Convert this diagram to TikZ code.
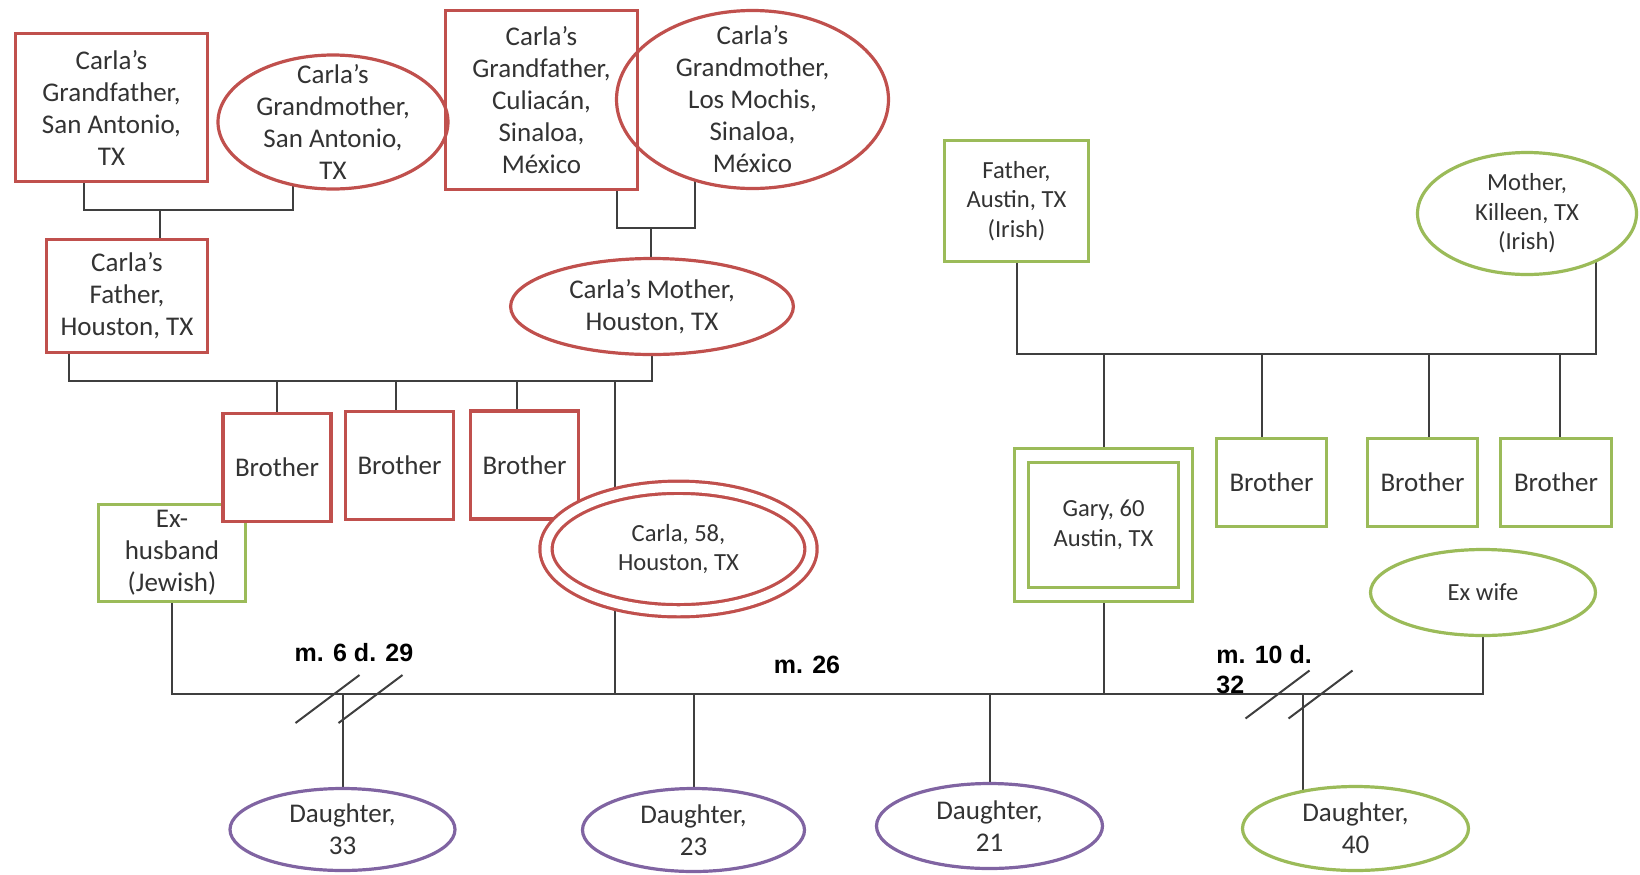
\documentclass[tikz,border=0pt]{standalone}
\usepackage{fontspec}
\setmainfont{Carlito}
\newfontfamily\markfont{Liberation Sans}
\usepackage{tikz}
\usetikzlibrary{shapes.geometric,backgrounds}
\definecolor{herside}{HTML}{C0504D}
\definecolor{hisside}{HTML}{9BBB59}
\definecolor{kids}{HTML}{8064A2}
\definecolor{wire}{HTML}{3F3F3F}
\definecolor{ink}{HTML}{333333}

\begin{document}
\begin{tikzpicture}[x=0.5pt,y=-0.5pt,
  male/.style={draw,rectangle,fill=white,line width=1.6pt,align=center,
               text=ink,font=\fontsize{13.5}{16}\selectfont,inner sep=2pt},
  female/.style={draw,ellipse,fill=white,line width=1.6pt,align=center,
                 text=ink,font=\fontsize{13.5}{16}\selectfont,
                 inner xsep=2pt,inner ysep=-12pt},
  smalltxt/.style={font=\fontsize{12.3}{14.8}\selectfont},
  proband/.style={double=white,double distance=#1},
  wh/.style 2 args={minimum width=#1pt,minimum height=#2pt},
  link/.style={wire,line width=1pt},
  years/.style={font=\markfont\bfseries\fontsize{12.5}{15}\selectfont,
                inner sep=0pt}
]
\useasboundingbox (0,0) rectangle (1640,874);

% Carla's grandparents
\node[male,draw=herside,wh={96}{74}] (gfsa) at (111.5,107.5)
  {Carla’s\\Grandfather,\\San Antonio,\\TX};
\node[female,draw=herside,wh={115}{67}] (gmsa) at (333,122)
  {Carla’s\\Grandmother,\\San Antonio,\\TX};
\node[female,draw=herside,wh={136}{89}] (gmlm) at (752.5,99.5)
  {Carla’s\\Grandmother,\\Los Mochis,\\Sinaloa,\\México};
\node[male,draw=herside,fill=none,wh={96}{89.5}] (gfcu) at (541.5,100)
  {Carla’s\\Grandfather,\\Culiacán,\\Sinaloa,\\México};

% Carla's parents
\node[male,draw=herside,wh={80.4}{56.4}] (cfather) at (127,296)
  {Carla’s\\Father,\\Houston, TX};
\node[female,draw=herside,wh={141.4}{48}] (cmother) at (652,306.5)
  {Carla’s Mother,\\Houston, TX};

% Carla, her brothers, her ex-husband
\node[male,draw=hisside,wh={73.4}{48.4},inner ysep=1pt] (exhusb) at (172,553)
  {Ex-\\husband\\(Jewish)};
\node[male,draw=herside,wh={54}{54}] (bro1) at (277,467.5) {Brother};
\node[male,draw=herside,wh={54}{54}] (bro2) at (399.5,465.5) {Brother};
\node[male,draw=herside,wh={54}{54}] (bro3) at (524.5,465) {Brother};
\node[female,draw=herside,proband=4.5pt,wh={132.5}{61.75},smalltxt] (carla)
  at (678.5,549) {Carla, 58,\\Houston, TX};

% Gary's parents
\node[male,draw=hisside,wh={72}{60.5},smalltxt] (gfather) at (1016.5,201)
  {Father,\\Austin, TX\\(Irish)};
\node[female,draw=hisside,wh={109.5}{61},smalltxt] (gmother) at (1527,213.5)
  {Mother,\\Killeen, TX\\(Irish)};

% Gary, his brothers, his ex-wife
\node[male,draw=hisside,proband=5.5pt,wh={81.75}{69.5},smalltxt] (gary)
  at (1103.5,525) {Gary, 60\\Austin, TX};
\node[male,draw=hisside,wh={55}{44}] (rbro1) at (1271.5,482.5) {Brother};
\node[male,draw=hisside,wh={55}{44}] (rbro2) at (1422.5,482.5) {Brother};
\node[male,draw=hisside,wh={55.5}{44}] (rbro3) at (1556,482.5) {Brother};
\node[female,draw=hisside,wh={112.5}{43},smalltxt] (exwife) at (1483,592.5)
  {Ex wife};

% daughters
\node[female,draw=kids,wh={112.5}{41}] (d33) at (342.5,829.5) {Daughter,\\33};
\node[female,draw=kids,wh={111}{41.5}] (d23) at (693.5,830) {Daughter,\\23};
\node[female,draw=kids,wh={113}{42.5}] (d21) at (989.5,826) {Daughter,\\21};
\node[female,draw=hisside,wh={113}{42}] (d40) at (1355.5,828.5) {Daughter,\\40};

% marriage notes
\node[years] (mar1) at (354,653) {m. 6 d. 29};
\node[years] (mar2) at (807,665) {m. 26};
\node[years,anchor=north west,align=left] (mar3) at (1216,645) {m. 10 d.\\32};

% lines
\coordinate (pgp) at (160,210);
\coordinate (mgp) at (651,228);
\coordinate (pbar) at (652,381);
\coordinate (gbar) at (1596,354);
\coordinate (mbar) at (0,694);
\coordinate (div1) at (327.5,699);
\coordinate (div2) at (1277.5,694.5);

\begin{scope}[on background layer]
\draw[link] (gfsa -| 84,0) |- (pgp) -| (gmsa -| 293,0);
\draw[link] (pgp) -- (cfather -| pgp);
\draw[link] (gfcu.south -| 617,0) |- (mgp) -| (gmlm -| 695,0);
\draw[link] (mgp) -- (cmother -| mgp);

\draw[link] (cfather -| 69,0) |- (pbar) -- (cmother);
\foreach \n/\x in {bro1/277,bro2/396,bro3/517}
  \draw[link] (pbar -| \x,0) -- (\n -| \x,0);
\draw[link] (pbar -| 615,0) -- (carla -| 615,0) -- (mbar -| 615,0);

\draw[link] (gfather) |- (gbar) -- (gmother -| gbar);
\foreach \n/\x in {rbro1/1262,rbro2/1429,rbro3/1560}
  \draw[link] (gbar -| \x,0) -- (\n -| \x,0);
\draw[link] (gbar -| gary) -- (mbar -| gary);

\draw[link] (exhusb) |- (mbar -| exwife) -- (exwife);
\foreach \n in {d33,d23,d21}
  \draw[link] (mbar -| \n) -- (\n);
\draw[link] (mbar -| 1303,0) -- (d40 -| 1303,0);
\end{scope}

% divorce slashes
\foreach \p in {div1,div2} {
  \draw[link] (\p) ++(-32,24) -- ++(64,-48);
  \draw[link] (\p) ++(11,24) -- ++(64,-48);
}
\end{tikzpicture}
\end{document}
